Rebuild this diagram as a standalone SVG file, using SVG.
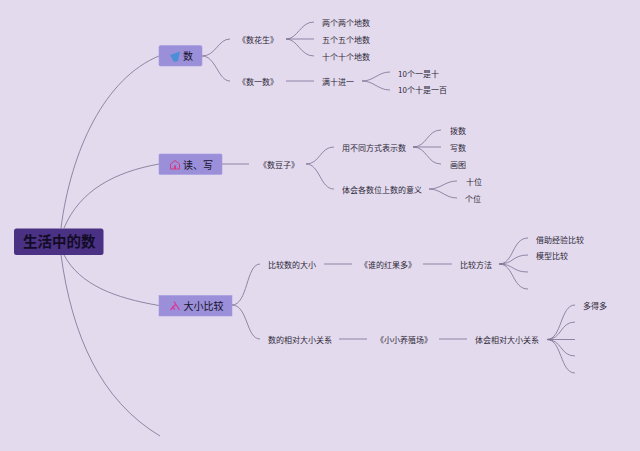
<svg xmlns="http://www.w3.org/2000/svg" width="640" height="451" viewBox="0 0 640 451">
<style>
text{font-family:"Noto Sans CJK SC","Liberation Sans",sans-serif;fill:#2f2937}
.t{font-size:8px}
.m{font-size:10px;fill:#15112a}
.r{font-size:14.5px;font-weight:700;fill:#120b24}
.b{fill:#9a8fd8;stroke:#a59ce0;stroke-width:.6}
.c path{fill:none;stroke:#7b7090;stroke-width:.8}
</style>
<rect width="640" height="451" fill="#e3daee"/>
<g id="connectors" class="c">
<path d="M61 228C71 150 105 78 159 56"/>
<path d="M64 228C80 190 115 172 159 164"/>
<path d="M64 255C80 285 115 298 159 305.500"/>
<path d="M61 255C72 335 100 400 160 436"/>
<path d="M202 56C216 56 218 39 230 39"/>
<path d="M202 56C216 56 218 81 230 81"/>
<path d="M286 39C298 39 300 22 314 22"/>
<path d="M286 39H314"/>
<path d="M286 39C298 39 300 56 314 56"/>
<path d="M286 81H314"/>
<path d="M362 81C374 81 378 72 390 72"/>
<path d="M362 81C374 81 378 90 390 90"/>
<path d="M222 164H249"/>
<path d="M306 164C320 164 320 147 334 147"/>
<path d="M306 164C320 164 320 189 334 189"/>
<path d="M413 147C427 147 427 130 441 130"/>
<path d="M413 147H441"/>
<path d="M413 147C427 147 427 164 441 164"/>
<path d="M429 189C441 189 445 181 457 181"/>
<path d="M429 189C441 189 445 198 457 198"/>
<path d="M232 305C248 305 246 264 260 264"/>
<path d="M232 305C248 305 246 339 260 339"/>
<path d="M324 264H352"/>
<path d="M423 264H452"/>
<path d="M499 264C514 264 512 238 528 238"/>
<path d="M499 264C514 264 512 255 528 255"/>
<path d="M499 264C514 264 512 272 528 272"/>
<path d="M499 264C514 264 512 289 528 289"/>
<path d="M339 339H367"/>
<path d="M439 339H467"/>
<path d="M547 339.500C562 339.500 560 305 575 305"/>
<path d="M547 339.500C562 339.500 560 322 575 322"/>
<path d="M547 339.500H575"/>
<path d="M547 339.500C562 339.500 560 356 575 356"/>
<path d="M547 339.500C562 339.500 560 373 575 373"/>
</g>
<g id="root"><rect x="14" y="228.500" width="89.500" height="26.500" rx="2.500" fill="#4b3184"/><text class="r" x="23" y="247">生活中的数</text></g>
<g id="n-shu"><rect class="b" x="159" y="45.500" width="43" height="20.500" rx="1.500"/><path d="M170 55L180 51.500L178 61L174 62Z" fill="#4d8fd6"/><text class="m" x="183" y="60">数</text></g>
<g id="n-duxie"><rect class="b" x="159" y="154" width="63" height="20.500" rx="1"/><path d="M170.500 169V164L175 160.500L179.500 164V169Z" fill="none" stroke="#d83a80" stroke-width="1"/><rect x="174" y="165.500" width="2" height="3.500" fill="#d83a80"/><text class="m" x="183" y="168.500">读、写</text></g>
<g id="n-bijiao"><rect class="b" x="159" y="295.500" width="73" height="20.500"/><path d="M170.500 310L176 304M174 301.500L179.500 310M172 306.500L175 309.500" fill="none" stroke="#d83a9c" stroke-width="1.300"/><text class="m" x="183.500" y="310">大小比较</text></g>
<g id="a1"><text class="t" x="238" y="42.500">《数花生》</text></g>
<g id="a2"><text class="t" x="238" y="84.500">《数一数》</text></g>
<g id="a3"><text class="t" x="322" y="26">两个两个地数</text></g>
<g id="a4"><text class="t" x="322" y="43">五个五个地数</text></g>
<g id="a5"><text class="t" x="322" y="59.500">十个十个地数</text></g>
<g id="a6"><text class="t" x="322" y="85">满十进一</text></g>
<g id="a7"><text class="t" x="398" y="76.500">10个一是十</text></g>
<g id="a8"><text class="t" x="398" y="93">10个十是一百</text></g>
<g id="b1"><text class="t" x="259" y="167.500">《数豆子》</text></g>
<g id="b2"><text class="t" x="342" y="151">用不同方式表示数</text></g>
<g id="b3"><text class="t" x="342" y="193">体会各数位上数的意义</text></g>
<g id="b4"><text class="t" x="450" y="134">拨数</text></g>
<g id="b5"><text class="t" x="450" y="151">写数</text></g>
<g id="b6"><text class="t" x="450" y="168">画图</text></g>
<g id="b7"><text class="t" x="466" y="185">十位</text></g>
<g id="b8"><text class="t" x="465" y="201.500">个位</text></g>
<g id="c1"><text class="t" x="268" y="268">比较数的大小</text></g>
<g id="c2"><text class="t" x="360" y="268">《谁的红果多》</text></g>
<g id="c3"><text class="t" x="460" y="268">比较方法</text></g>
<g id="c4"><text class="t" x="536" y="242.500">借助经验比较</text></g>
<g id="c5"><text class="t" x="536" y="259">模型比较</text></g>
<g id="c6"><text class="t" x="268" y="343">数的相对大小关系</text></g>
<g id="c7"><text class="t" x="376" y="343">《小小养殖场》</text></g>
<g id="c8"><text class="t" x="475" y="343">体会相对大小关系</text></g>
<g id="c9"><text class="t" x="583" y="309">多得多</text></g>
</svg>
